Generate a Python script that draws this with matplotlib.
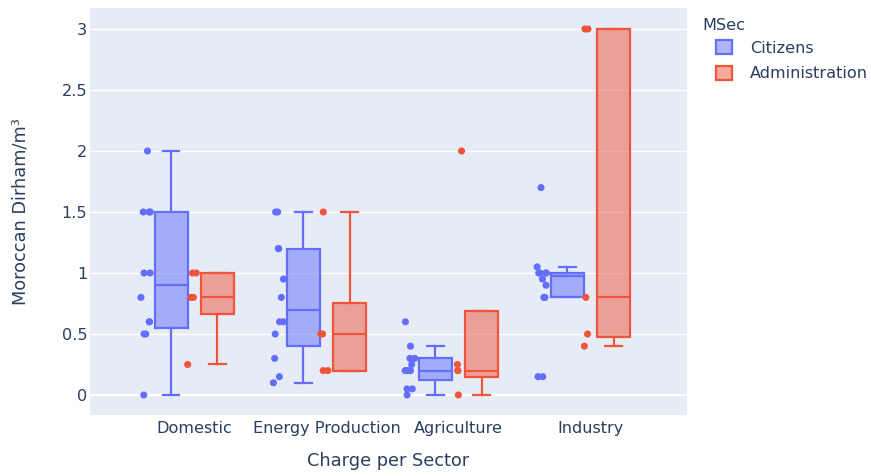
import numpy as np
import matplotlib.pyplot as plt
from matplotlib.colors import to_rgba
from matplotlib.patches import Patch

plt.rcParams['font.family'] = ['DejaVu Sans']

sectors = ['Domestic', 'Energy Production', 'Agriculture', 'Industry']
groups = ['Citizens', 'Administration']

# charge per m³ answers, one list per sector
citizens = [
    [2.0, 1.5, 1.5, 1.5, 1.0, 1.0, 0.8, 0.6, 0.6, 0.5, 0.5, 0.0],
    [1.5, 1.5, 1.2, 1.2, 0.95, 0.8, 0.6, 0.6, 0.5, 0.3, 0.15, 0.1],
    [0.6, 0.4, 0.3, 0.3, 0.25, 0.2, 0.2, 0.2, 0.2, 0.05, 0.05, 0.0],
    [1.7, 1.05, 1.0, 1.0, 1.0, 1.0, 0.95, 0.9, 0.8, 0.8, 0.15, 0.15],
]
administration = [
    [1.0, 1.0, 0.8, 0.8, 0.25],
    [1.5, 0.5, 0.5, 0.2, 0.2],
    [2.0, 0.25, 0.2, 0.2, 0.0],
    [3.0, 3.0, 0.8, 0.5, 0.4],
]
yticks = [0, 0.5, 1, 1.5, 2, 2.5, 3]
ytick_labels = ['0', '0.5', '1', '1.5', '2', '2.5', '3']

colors = ['#636EFA', '#EF553B']
text_c = '#2a3f5f'
bg = '#E5ECF6'
lw = 1.6


def box_stats(vals):
    # hazen quartiles, whiskers to last point inside 1.5 IQR
    v = np.sort(np.asarray(vals, float))
    q1, med, q3 = np.percentile(v, [25, 50, 75], method='hazen')
    iqr = q3 - q1
    lo = v[v >= q1 - 1.5 * iqr].min()
    hi = v[v <= q3 + 1.5 * iqr].max()
    return dict(med=med, q1=q1, q3=q3, whislo=min(lo, q1),
                whishi=max(hi, q3), fliers=[])


fig = plt.figure(figsize=(8.71, 4.76), dpi=100)
ax = fig.add_axes([90 / 871, 1 - 415 / 476, 597 / 871, 407 / 476])
ax.set_facecolor(bg)
for s in ax.spines.values():
    s.set_visible(False)

rng = np.random.default_rng(7)
cats = np.arange(len(sectors))
for data, c, off in zip([citizens, administration], colors, [-0.175, 0.175]):
    pos = cats + off
    stats = [box_stats(d) for d in data]
    ax.bxp(stats, positions=pos, widths=0.25, capwidths=0.125,
           patch_artist=True, showfliers=False, manage_ticks=False,
           boxprops=dict(facecolor=to_rgba(c, 0.5), edgecolor=c, linewidth=lw),
           whiskerprops=dict(color=c, linewidth=lw),
           capprops=dict(color=c, linewidth=lw),
           medianprops=dict(color=c, linewidth=lw), zorder=2)
    for p, d in zip(pos, data):
        jit = rng.uniform(-1, 1, len(d)) * 0.04
        ax.scatter(p - 0.19 + jit, d, s=26, color=c, edgecolors='none', zorder=3)

ax.set_xlim(-0.79, 3.73)
ax.set_ylim(-0.164, 3.172)
ax.set_xticks(cats)
ax.set_xticklabels(sectors)
ax.set_yticks(yticks)
ax.set_yticklabels(ytick_labels)
ax.tick_params(length=0, labelsize=11.6, labelcolor=text_c)
ax.tick_params(axis='x', pad=4)
ax.tick_params(axis='y', pad=2)
ax.grid(axis='y', color='white', linewidth=1.0, zorder=0)
ax.axhline(0, color='white', linewidth=1.6, zorder=1)
ax.set_axisbelow(True)

ax.set_xlabel('Charge per Sector', fontsize=12.8, color=text_c, labelpad=12)
ax.set_ylabel('Moroccan Dirham/m³', fontsize=12.8, color=text_c, labelpad=23)

# legend: title on its own, swatches indented under it
fig.text(702 / 871, 1 - 25 / 476, 'MSec', fontsize=11.6, color=text_c,
         ha='left', va='center')
handles = [Patch(facecolor=to_rgba(c, 0.5), edgecolor=c, linewidth=lw)
           for c in colors]
leg = fig.legend(handles, groups, loc='upper left',
                 bbox_to_anchor=(716 / 871, 1 - 40 / 476), frameon=False,
                 fontsize=11.6, handlelength=1.0, handleheight=1.0,
                 handletextpad=1.1, labelspacing=0.62, borderaxespad=0,
                 borderpad=0)
for t in leg.get_texts():
    t.set_color(text_c)

fig.savefig('out.png', dpi=100)
